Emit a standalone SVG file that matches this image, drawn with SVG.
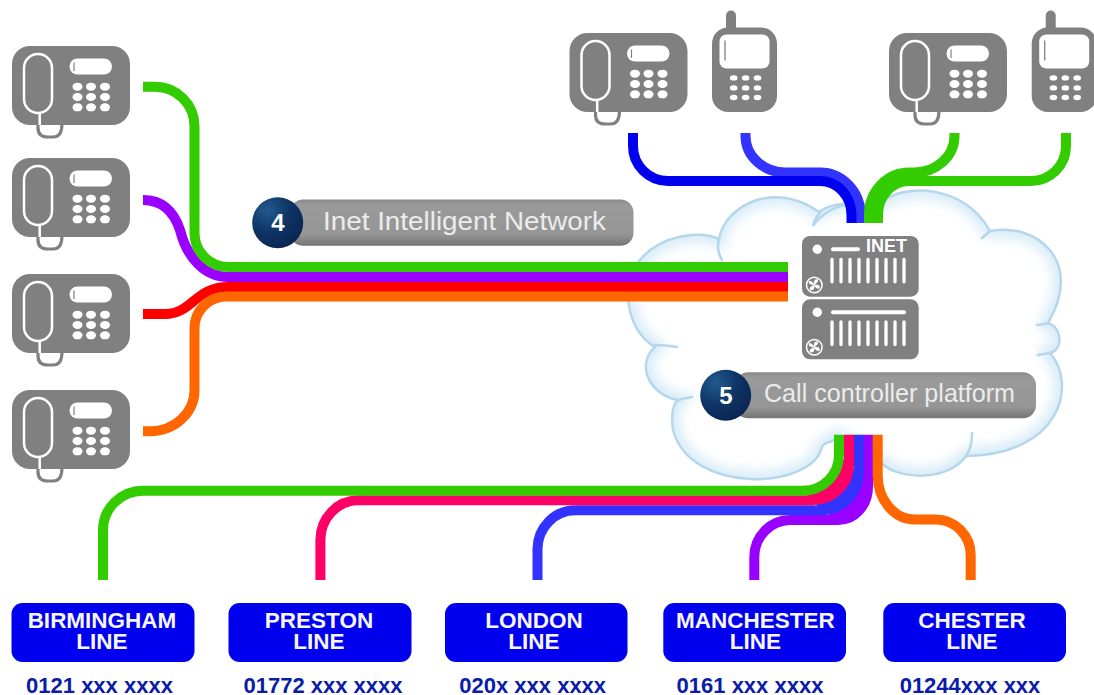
<svg xmlns="http://www.w3.org/2000/svg" xmlns:xlink="http://www.w3.org/1999/xlink" width="1094" height="695" viewBox="0 0 1094 695">
<style>
text{font-family:"Liberation Sans",Arial,sans-serif}
.c{fill:none;stroke-width:10}
.g{stroke:#33cc00}.p{stroke:#9900ff}.r{stroke:#ff0000}.o{stroke:#ff6600}.b{stroke:#0000ee}.l{stroke:#3333ff}.k{stroke:#ff0066}
.box{fill:#0000ee}
.line{fill:#f6f6ff;font-size:22.500px;font-weight:bold;text-anchor:middle}
.num{fill:#0a1ca8;font-size:22px;font-weight:bold;text-anchor:middle}
.body{fill:#808080}
.pill{fill:url(#pillG)}
.ball{fill:url(#ballG)}
.nn{fill:#fff;font-size:24px;font-weight:bold;text-anchor:middle}
.pt{fill:#ececec;font-size:26px}
.wl{stroke:#fff;fill:none;stroke-linecap:round}
.tail{fill:none;stroke:#b5d7ec;stroke-width:2.5;stroke-linecap:round}
</style>
<defs>
<linearGradient id="pillG" x1="0" y1="0" x2="0" y2="1"><stop offset="0" stop-color="#8a8a8a"/><stop offset=".12" stop-color="#9a9a9a"/><stop offset=".75" stop-color="#969696"/><stop offset="1" stop-color="#747474"/></linearGradient>
<radialGradient id="ballG" cx=".3" cy=".25" r=".85"><stop offset="0" stop-color="#235a8e"/><stop offset=".5" stop-color="#0e3566"/><stop offset="1" stop-color="#0a2450"/></radialGradient>
<filter id="blur" x="-10%" y="-10%" width="120%" height="120%"><feGaussianBlur stdDeviation="6"/></filter>
<clipPath id="cloudClip"><path id="cloudShape" d="M719 239C725 205 775 180 819 212C827 206 840 203 850 204L880 203C905 182 965 185 990 231C1035 222 1085 260 1048 323C1063 328 1063 350 1050 353C1078 385 1060 455 966 456C950 480 900 482 880 462L838 437C830 445 825 440 822 447C812 490 690 495 673 430C671 415 672 405 678 400C650 395 635 365 655 347C625 330 620 280 640 260C660 235 700 230 719 239Z"/></clipPath>
<g id="desk">
<rect class="body" width="118" height="79" rx="18"/>
<path d="M26 78V82Q26 91 36 91H41Q50 91 50 78" fill="none" stroke="#808080" stroke-width="3.2"/>
<rect x="12" y="8" width="28" height="59" rx="14" fill="none" stroke="#fff" stroke-width="2.500"/>
<path d="M27.7 67V79" stroke="#fff" stroke-width="2.500"/>
<rect x="57.500" y="12.500" width="42.500" height="16" rx="8" fill="#fff"/>
<path d="M62 16.500V25" stroke="#808080" stroke-width="1.2"/>
<g fill="#fff">
<ellipse cx="65.500" cy="40.700" rx="5" ry="4"/><ellipse cx="79" cy="40.700" rx="5" ry="4"/><ellipse cx="93" cy="40.700" rx="5" ry="4"/>
<ellipse cx="65.500" cy="51" rx="5" ry="4"/><ellipse cx="79" cy="51" rx="5" ry="4"/><ellipse cx="93" cy="51" rx="5" ry="4"/>
<ellipse cx="65.500" cy="61.300" rx="5" ry="4"/><ellipse cx="79" cy="61.300" rx="5" ry="4"/><ellipse cx="93" cy="61.300" rx="5" ry="4"/>
</g>
</g>
<g id="mobile">
<rect x="14" y="-17" width="10" height="24" rx="5" class="body"/>
<rect class="body" width="65" height="84.500" rx="16"/>
<rect x="7.500" y="7" width="50" height="34" rx="7" fill="#fff"/>
<path d="M13 13V33" stroke="#808080" stroke-width="1.300"/>
<g fill="#fff">
<ellipse cx="21.700" cy="50.400" rx="3.800" ry="2.700"/><ellipse cx="33.600" cy="50.400" rx="3.800" ry="2.700"/><ellipse cx="45.500" cy="50.400" rx="3.800" ry="2.700"/>
<ellipse cx="21.700" cy="60.400" rx="3.800" ry="2.700"/><ellipse cx="33.600" cy="60.400" rx="3.800" ry="2.700"/><ellipse cx="45.500" cy="60.400" rx="3.800" ry="2.700"/>
<ellipse cx="21.700" cy="70" rx="3.800" ry="2.700"/><ellipse cx="33.600" cy="70" rx="3.800" ry="2.700"/><ellipse cx="45.500" cy="70" rx="3.800" ry="2.700"/>
</g>
</g>
<g id="fan">
<circle r="7.800" fill="none" stroke="#fff" stroke-width="1.500"/>
<path d="M0 0C-1 -3 0 -6 3 -6C5 -5 3 -2 0 0ZM0 0C3 -1 6 0 5.500 3C4 5 1 3 0 0ZM0 0C1 3 -1 6 -4 5C-6 3 -3 1 0 0ZM0 0C-3 0 -6 -1 -5.500 -3.500C-4 -5 -1 -3 0 0Z" fill="#fff"/>
</g>
<g id="bars">
<path d="M832 0V22.500M841 0V22.500M850 0V22.500M859 0V22.500M868 0V22.500M877 0V22.500M886 0V22.500M895 0V22.500M904 0V22.500" stroke="#fff" stroke-width="3.300" stroke-linecap="round" fill="none"/>
</g>
</defs>

<rect width="1094" height="695" fill="#fff"/>

<g id="cloud">
<use xlink:href="#cloudShape" href="#cloudShape" fill="#fff"/>
<g clip-path="url(#cloudClip)"><use href="#cloudShape" fill="none" stroke="#a8d2ee" stroke-width="16" stroke-opacity=".45" filter="url(#blur)"/></g>
<use href="#cloudShape" fill="none" stroke="#b5d7ec" stroke-width="2.500"/>
<path class="tail" d="M719 239Q716 250 722 260M820 213Q815 218 813 226Q825 208 850 204M990 231L982 238M1048 323Q1042 325 1037 325M1050 353Q1044 354 1038 355M972 433Q972 448 966 456M655 345Q665 345 677 347M678 400Q685 398 692 397"/>
</g>

<g id="connectors">
<path class="c l" d="M745.500 133V136A40 36.500 0 0 0 785.500 172.500H820A40.500 42.500 0 0 1 860.500 215V223"/>
<path class="c b" d="M633 133V146A35 35 0 0 0 668 181H820A31.500 34 0 0 1 851.500 215V223"/>
<path class="c g" d="M954.500 133V136A40 36.500 0 0 1 914.500 172.500H909A40 42.500 0 0 0 869 215V223"/>
<path class="c g" d="M1066 133V146A35 35 0 0 1 1031 181H909A31 34 0 0 0 878 215V223"/>
<path class="c p" d="M143 200C165 200 175 215 180 230C187 258 205 277 228 277H788"/>
<path class="c g" d="M143 86.700H155A39.500 39.500 0 0 1 194.500 126V233A34 34 0 0 0 228 267H788"/>
<path class="c r" d="M143 314H165C192 314 195 287 228 287H788"/>
<path class="c o" d="M143 431.300H150A44.500 41 0 0 0 194.500 390V328A32 31.500 0 0 1 227 296.500H788"/>
<path class="c p" d="M754.300 580V557A36 37 0 0 1 790 520H838A30 33 0 0 0 868 487V434.700"/>
<path fill="#9900ff" d="M822 510.300L848 499L858.700 472L868 487L859 510L838 520Z"/>
<path class="c l" d="M537.500 580V549A38 38.700 0 0 1 575.500 510.300H822A36.700 38.300 0 0 0 858.700 472V434.700"/>
<path fill="#3333ff" d="M812 500.300L838 490L849 465L858.700 472L848 499L822 510.300Z"/>
<path class="c k" d="M320.400 580V540A38 39.700 0 0 1 358 500.300H812A37 35.300 0 0 0 849 465V434.700"/>
<path fill="#ff0066" d="M803 490.700L828 480L839 455L849 465L838 490L812 500.300Z"/>
<path class="c g" d="M103 580V530A40 39.300 0 0 1 143 490.700H803A36 35.700 0 0 0 839 455V434.700"/>
<path class="c o" d="M970.700 580V555A35 35.500 0 0 0 935.700 519.500H915A37 44 0 0 1 877.700 475V434.700"/>
</g>

<g id="phone-1"><use href="#desk" x="12" y="46"/></g>
<g id="phone-2"><use href="#desk" x="12" y="158"/></g>
<g id="phone-3"><use href="#desk" x="12" y="274"/></g>
<g id="phone-4"><use href="#desk" x="12" y="390"/></g>
<g id="phone-5"><use href="#desk" x="569.500" y="33"/></g>
<g id="mobile-1"><use href="#mobile" x="712" y="27.500"/></g>
<g id="phone-6"><use href="#desk" x="889" y="33"/></g>
<g id="mobile-2"><use href="#mobile" x="1031.700" y="27.500"/></g>

<g id="server">
<rect class="body" x="802" y="236" width="116.700" height="60.700" rx="8"/>
<circle cx="817.300" cy="249.300" r="4.700" fill="#fff"/>
<path class="wl" stroke-width="4" d="M833 249.300H858"/>
<text x="866" y="252" fill="#fff" font-size="18" font-weight="bold">INET</text>
<use href="#bars" y="259.300"/>
<use href="#fan" x="814.300" y="285"/>
<rect class="body" x="802" y="299.300" width="116.700" height="60" rx="8"/>
<circle cx="817.300" cy="312.300" r="4.700" fill="#fff"/>
<path class="wl" stroke-width="4" d="M833 312.300H904"/>
<use href="#bars" y="322"/>
<use href="#fan" x="814.300" y="347.300"/>
</g>

<g id="label-4">
<rect class="pill" x="290" y="199.500" width="343.500" height="46.300" rx="13"/>
<circle class="ball" cx="277.700" cy="222.700" r="25.500"/>
<text class="nn" x="278" y="231">4</text>
<text class="pt" x="323" y="230" textLength="283" lengthAdjust="spacingAndGlyphs">Inet Intelligent Network</text>
</g>
<g id="label-5">
<rect class="pill" x="735" y="372.300" width="301" height="46" rx="13"/>
<circle class="ball" cx="725.700" cy="395.300" r="25.500"/>
<text class="nn" x="726" y="404">5</text>
<text class="pt" x="764" y="402" textLength="251" lengthAdjust="spacingAndGlyphs">Call controller platform</text>
</g>

<g id="birmingham"><rect class="box" x="11.500" y="603" width="183" height="59" rx="11"/><text class="line" x="102" y="627.500">BIRMINGHAM</text><text class="line" x="102" y="649">LINE</text><text class="num" x="99.500" y="693">0121 xxx xxxx</text></g>
<g id="preston"><rect class="box" x="228.500" y="603" width="183" height="59" rx="11"/><text class="line" x="319" y="627.500">PRESTON</text><text class="line" x="319" y="649">LINE</text><text class="num" x="323" y="693">01772 xxx xxxx</text></g>
<g id="london"><rect class="box" x="445" y="603" width="182.500" height="59" rx="11"/><text class="line" x="534" y="627.500">LONDON</text><text class="line" x="534" y="649">LINE</text><text class="num" x="532.700" y="693">020x xxx xxxx</text></g>
<g id="manchester"><rect class="box" x="663.300" y="603" width="182.700" height="59" rx="11"/><text class="line" x="755.500" y="627.500">MANCHESTER</text><text class="line" x="755.500" y="649">LINE</text><text class="num" x="750" y="693">0161 xxx xxxx</text></g>
<g id="chester"><rect class="box" x="883.300" y="603" width="182.700" height="59" rx="11"/><text class="line" x="972" y="627.500">CHESTER</text><text class="line" x="972" y="649">LINE</text><text class="num" x="970" y="693">01244xxx xxx</text></g>
</svg>
